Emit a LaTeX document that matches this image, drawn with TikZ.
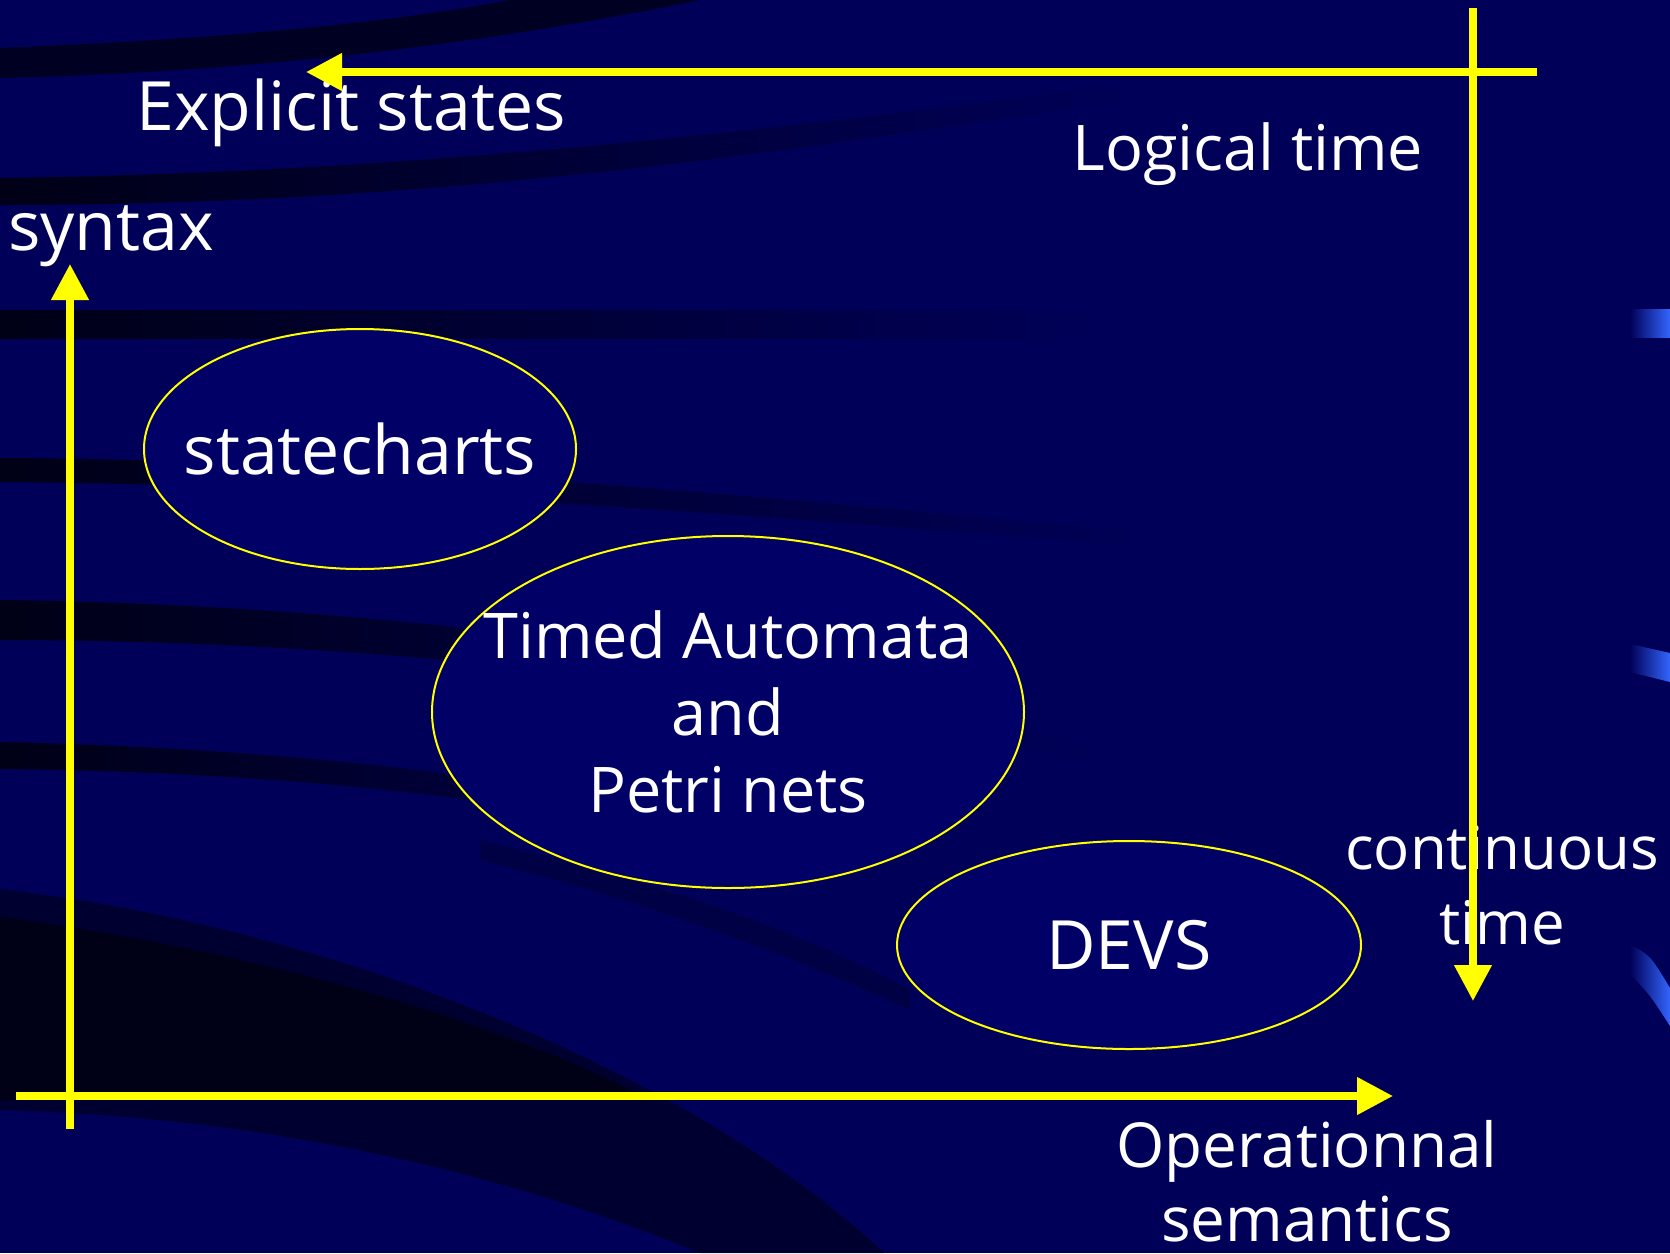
\documentclass[tikz,border=0pt]{standalone}
\usepackage{fontspec}
\setmainfont{Open Sans}
\usetikzlibrary{arrows.meta,shapes.geometric}

\definecolor{slidebg}{RGB}{0,0,88}
\definecolor{ovalbg}{RGB}{0,0,102}
\definecolor{swoosh}{RGB}{0,0,22}
\definecolor{axisyellow}{RGB}{255,255,0}
\definecolor{tabblue}{RGB}{51,102,255}

\begin{document}
\begin{tikzpicture}[x=1pt, y=-1pt,
  axis/.style={draw=axisyellow, line width=7.5pt, -{Triangle[length=36pt,width=36pt]}},
  oval/.style={ellipse, draw=axisyellow, line width=2pt, fill=ovalbg, inner sep=0pt},
  txt/.style={text=white, align=center, inner sep=0pt},
  big/.style={font=\fontsize{63}{77}\selectfont},
  bigger/.style={font=\fontsize{68}{77}\selectfont}]

% background
\fill[slidebg] (0,0) rectangle (1670,1253);
\useasboundingbox (0,0) rectangle (1670,1253);

% dark swooshes
\fill[swoosh, opacity=0.8] (0,48) .. controls (200,40) and (380,25) .. (510,0) -- (700,0)
   .. controls (480,45) and (250,72) .. (0,78) -- cycle;
\shade[left color=swoosh, right color=slidebg] (0,178) .. controls (450,172) and (800,125) .. (1150,82)
   -- (1150,96) .. controls (800,150) and (450,205) .. (0,205) -- cycle;
\shade[left color=swoosh, right color=slidebg] (0,310) rectangle (1100,338);
\shade[left color=swoosh, right color=slidebg] (0,458) .. controls (400,460) and (800,500) .. (1170,535)
   -- (1170,548) .. controls (800,520) and (400,485) .. (0,482) -- cycle;
\shade[left color=swoosh, right color=slidebg] (0,600) .. controls (400,605) and (800,660) .. (1100,750)
   -- (1100,765) .. controls (800,690) and (400,640) .. (0,640) -- cycle;
\shade[left color=swoosh, right color=slidebg] (0,742) .. controls (350,750) and (650,790) .. (900,870)
   -- (900,885) .. controls (650,815) and (350,772) .. (0,769) -- cycle;
\fill[swoosh, opacity=0.3] (480,840) .. controls (650,880) and (800,930) .. (910,990)
   -- (910,1010) .. controls (780,950) and (640,900) .. (480,860) -- cycle;
\fill[swoosh, opacity=0.6] (0,889) .. controls (350,930) and (700,1080) .. (884,1253) -- (700,1253)
   .. controls (450,1150) and (200,1115) .. (0,1110) -- cycle;
\fill[black, opacity=0.5] (0,917) .. controls (250,950) and (500,1020) .. (650,1100)
   .. controls (400,1095) and (200,1100) .. (0,1100) -- cycle;

% blue tabs on the right edge
\shade[left color=slidebg, right color=tabblue] (1630,309) rectangle (1670,337);
\shade[left color=slidebg, right color=tabblue] (1630,644) -- (1670,653) -- (1670,682) -- (1630,672) -- cycle;
\shade[left color=slidebg, right color=tabblue] (1630,945) .. controls (1650,955) .. (1670,988)
   -- (1670,1026) .. controls (1650,995) .. (1630,974) -- cycle;

% formalisms
\node[oval, minimum width=432pt, minimum height=240pt] (statecharts) at (360,449) {};
\node[oval, minimum width=592pt, minimum height=352pt] (tapn) at (728,712) {};
\node[oval, minimum width=464pt, minimum height=208pt] (devs) at (1129,945) {};
\node[txt, bigger] (statechartstext) at (statecharts.center) {statecharts};
\node[txt, big] (tapntext) at (tapn.center) {Timed Automata\\ and\\ Petri nets};
\node[txt, bigger] (devstext) at (devs.center) {DEVS};

% axis labels
\node[txt, bigger, anchor=base] (expl) at (351,130) {Explicit states};
\node[txt, big, anchor=base] (logic) at (1248,170) {Logical time};
\node[txt, bigger, anchor=base] (syntax) at (111,250) {syntax};
\node[txt, font=\fontsize{60}{75}\selectfont] (cont) at (1502,885) {continuous\\ time};
\node[txt, font=\fontsize{62}{74}\selectfont] (opsem) at (1307,1181) {Operationnal\\ semantics};

% axes
\coordinate (tstart) at (1537,72);
\coordinate (tend) at (306,72);
\coordinate (rstart) at (1473,8);
\coordinate (rend) at (1473,1001);
\coordinate (sstart) at (70,1129);
\coordinate (send) at (70,264);
\coordinate (ostart) at (16,1096);
\coordinate (oend) at (1393,1096);
\draw[axis] (tstart) -- (tend);
\draw[axis] (rstart) -- (rend);
\draw[axis] (sstart) -- (send);
\draw[axis] (ostart) -- (oend);
\end{tikzpicture}
\end{document}
